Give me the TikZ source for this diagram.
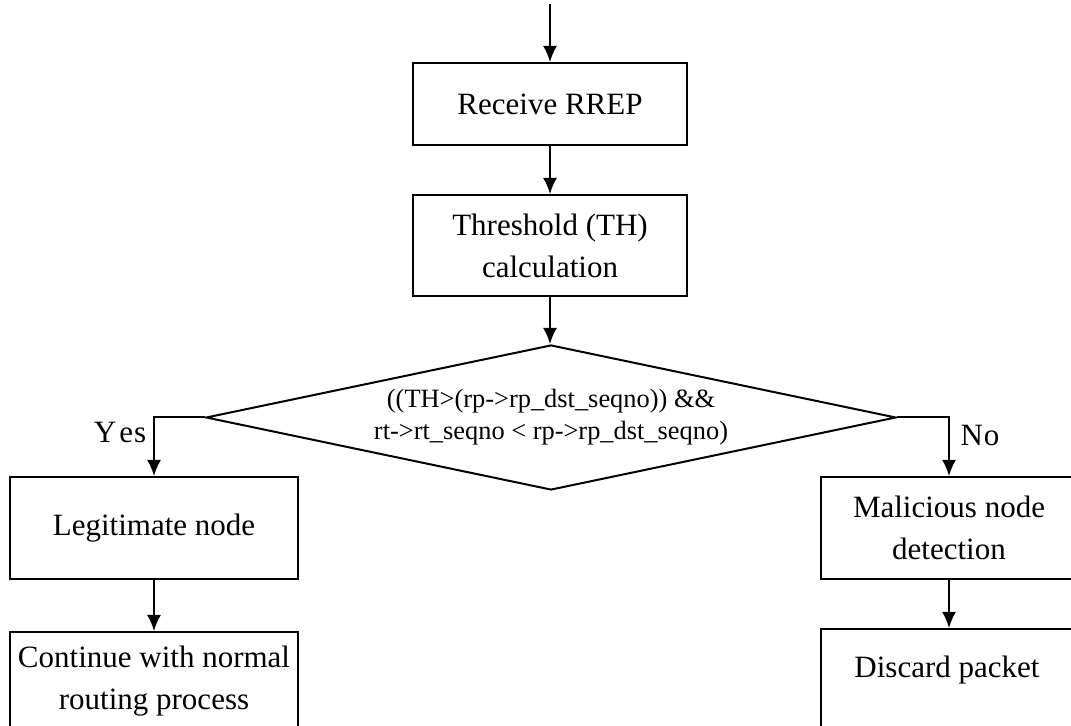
\documentclass[tikz,border=0pt]{standalone}
\usepackage{fontspec}
\setmainfont{Liberation Serif}
\usetikzlibrary{shapes.geometric,arrows.meta}

\tikzset{
  flowbox/.style={draw=black, line width=1pt, rectangle, inner sep=0pt, align=center,
    font=\fontsize{15.5}{21}\selectfont},
  decision/.style={draw=black, line width=1pt, diamond, inner sep=0pt, align=center,
    minimum width=345pt, minimum height=72.5pt, shape aspect=4.76,
    font=\fontsize{13.2}{16}\selectfont},
  boxtext/.style={inner sep=0pt, align=center, font=\fontsize{15.5}{21}\selectfont},
  branchlabel/.style={inner sep=0pt, font=\fontsize{15.5}{21}\selectfont},
  flow/.style={draw=black, line width=1pt, -{Latex[length=8pt,width=7pt]}},
}

\begin{document}
\begin{tikzpicture}[x=0.5pt, y=-0.5pt]
  \useasboundingbox (0,0) rectangle (1071,726);
  \fill[white] (0,0) rectangle (1071,726);

  % entry point
  \coordinate (start) at (550,4);

  % main column
  \node[flowbox, minimum width=137pt, minimum height=41pt] (rrep) at (550,104) {Receive RREP};
  \node[flowbox, minimum width=137pt, minimum height=50.5pt] (th) at (550,245.5)
    {Threshold (TH)\\calculation};
  \node[decision] (dec) at (551,417.5)
    {((TH>(rp->rp\_dst\_seqno)) \&\&\\rt->rt\_seqno < rp->rp\_dst\_seqno)};

  % left branch
  \node[flowbox, minimum width=144pt, minimum height=51pt] (legit) at (154,528) {Legitimate node};
  \node[flowbox, minimum width=144pt, minimum height=49pt] (cont) at (154,681)
    {Continue with normal\\routing process};

  % right branch
  \node[flowbox, minimum width=128pt, minimum height=51pt] (mal) at (949,528)
    {Malicious node\\detection};
  \node[flowbox, minimum width=128pt, minimum height=52pt, anchor=north] (discard) at (949,628) {};
  \node[boxtext] (discardtext) at (947,670) {Discard packet};

  % connectors
  \draw[flow] (start) -- (rrep.north);
  \draw[flow] (rrep.south) -- (th.north);
  \draw[flow] (th.south) -- (th.south |- dec.north);
  \draw[flow] (dec.west) -| (legit.north);
  \draw[flow] (dec.east) -| (mal.north);
  \draw[flow] (legit.south) -- (cont.north);
  \draw[flow] (mal.south) -- (discard.north);

  % branch labels
  \node[branchlabel] (yes) at (120,433) {Y\kern1.5pt e\kern0.5pt s};
  \node[branchlabel] (no) at (980,436) {N\kern0.5pt o};
\end{tikzpicture}
\end{document}
